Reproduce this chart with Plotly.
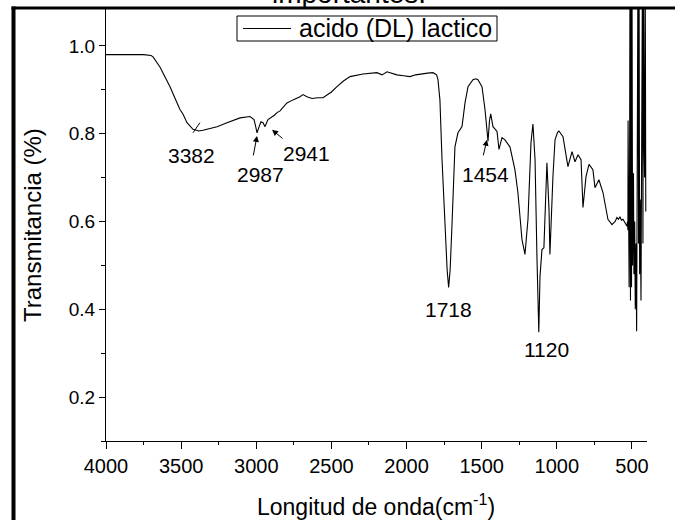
import plotly.graph_objects as go

# ---- data ----
wavenumber = [4000, 3850, 3750, 3700, 3687, 3641, 3607, 3574, 3540, 3508, 3488, 3461, 3421, 3382, 3355,
              3300, 3261, 3195, 3108, 3042, 3015, 3005, 2995, 2985, 2969, 2955, 2942, 2930, 2922, 2880,
              2862, 2842, 2796, 2756, 2709, 2689, 2663, 2629, 2590, 2556, 2529, 2500, 2463, 2420, 2376,
              2290, 2197, 2163, 2130, 2100, 2064, 2020, 1977, 1940, 1911, 1860, 1824, 1800, 1791, 1778,
              1764, 1744, 1730, 1720, 1710, 1698, 1678, 1658, 1631, 1611, 1591, 1558, 1540, 1525, 1498,
              1478, 1465, 1458, 1448, 1440, 1425, 1398, 1385, 1365, 1345, 1312, 1279, 1259, 1232, 1212,
              1192, 1172, 1159, 1145, 1132, 1120, 1112, 1099, 1086, 1066, 1052, 1046, 1026, 1012, 995,
              986, 959, 926, 899, 879, 859, 839, 826, 806, 786, 760, 746, 720, 693, 660,
              633, 612, 600, 590, 580, 570, 560, 545, 533,
              530, 527, 526, 524, 521, 519, 516, 513, 510, 507, 503, 500, 496, 490, 487,
              482, 478, 473, 469, 465, 460, 456, 453, 449, 445, 440, 435, 430, 427, 424,
              420, 416, 412, 408]
transmitance = [0.980, 0.981, 0.980, 0.978, 0.975, 0.952, 0.930, 0.907, 0.880, 0.855, 0.845, 0.825, 0.810, 0.806, 0.808,
                0.813, 0.816, 0.825, 0.836, 0.839, 0.832, 0.818, 0.802, 0.812, 0.827, 0.825, 0.816, 0.826, 0.832, 0.842,
                0.848, 0.852, 0.870, 0.877, 0.884, 0.889, 0.884, 0.880, 0.882, 0.882, 0.889, 0.895, 0.907, 0.920, 0.930,
                0.936, 0.939, 0.934, 0.941, 0.938, 0.934, 0.932, 0.930, 0.934, 0.936, 0.938, 0.939, 0.934, 0.923, 0.877,
                0.741, 0.589, 0.490, 0.450, 0.490, 0.589, 0.770, 0.802, 0.816, 0.870, 0.907, 0.923, 0.925, 0.923, 0.907,
                0.855, 0.800, 0.783, 0.830, 0.845, 0.816, 0.805, 0.764, 0.791, 0.786, 0.770, 0.718, 0.666, 0.559, 0.525,
                0.605, 0.780, 0.822, 0.741, 0.514, 0.348, 0.475, 0.536, 0.540, 0.734, 0.627, 0.525, 0.702, 0.786, 0.803,
                0.806, 0.793, 0.725, 0.759, 0.736, 0.752, 0.741, 0.632, 0.702, 0.730, 0.718, 0.677, 0.695, 0.666, 0.605,
                0.593, 0.600, 0.609, 0.605, 0.611, 0.603, 0.605, 0.597, 0.589,
                0.600, 0.580, 0.830, 0.580, 0.730, 0.450, 0.700, 1.200, 0.420, 1.200, 0.450, 1.200, 0.500, 0.710, 0.480,
                0.600, 0.400, 0.550, 0.350, 0.600, 1.200, 0.550, 1.200, 0.480, 0.650, 0.420, 0.700, 1.200, 0.550, 1.200,
                0.790, 0.700, 1.200, 0.623]

x_ticks = [4000, 3500, 3000, 2500, 2000, 1500, 1000, 500]
y_ticks = [0.2, 0.4, 0.6, 0.8, 1.0]
y_ticktext = ["0.2", "0.4", "0.6", "0.8", "1.0"]

peak_labels = ["3382", "2987", "2941", "1718", "1454", "1120"]
peak_label_x = [3428, 2975, 2663, 1724, 1478, 1066]
peak_label_y = [0.750, 0.707, 0.755, 0.400, 0.707, 0.309]

series_name = "acido (DL) lactico"

FONT = "Liberation Sans, Arial, sans-serif"

fig = go.Figure()
fig.add_trace(go.Scatter(x=wavenumber, y=transmitance, mode="lines", name=series_name,
                         line=dict(color="black", width=1.1), showlegend=False))

W, H = 675, 520
L, R, T, B = 106, 28, 9, 79
pw, ph = W - L - R, H - T - B


def px2paper_x(px):
    return (px - L) / pw


def px2paper_y(py):
    return (H - B - py) / ph


annotations = []
for txt, xx, yy in zip(peak_labels, peak_label_x, peak_label_y):
    annotations.append(dict(x=xx, y=yy, xref="x", yref="y", text=txt, showarrow=False,
                            xanchor="center", yanchor="middle",
                            font=dict(family=FONT, size=21, color="black")))

# arrows
for hx, hy, ax, ay in [(2995, 0.795, -4, 21), (2895, 0.809, 12, 10), (1465, 0.786, -4, 17)]:
    annotations.append(dict(x=hx, y=hy, xref="x", yref="y", text="", showarrow=True,
                            arrowhead=2, arrowsize=1.2, arrowwidth=1, arrowcolor="black",
                            ax=ax, ay=ay))

# axis titles
annotations.append(dict(x=px2paper_x(32), y=px2paper_y(225), xref="paper", yref="paper",
                        xanchor="center", yanchor="middle",
                        text="Transmitancia (%)", textangle=-90, showarrow=False,
                        font=dict(family=FONT, size=24, color="black")))
annotations.append(dict(x=px2paper_x(376), y=px2paper_y(505), xref="paper", yref="paper",
                        xanchor="center", yanchor="middle",
                        text="Longitud de onda(cm<sup>-1</sup>)", showarrow=False,
                        font=dict(family=FONT, size=23, color="black")))
# cut title at the top
annotations.append(dict(x=px2paper_x(349), y=px2paper_y(11), xref="paper", yref="paper",
                        xanchor="center", yanchor="bottom", text="importantes.", showarrow=False,
                        font=dict(family=FONT, size=28, color="black")))

# legend drawn as a framed box with a line sample and the series name
LEG_L, LEG_R, LEG_T, LEG_B = 237, 497, 16, 41
legend_mid = (LEG_T + LEG_B) / 2
annotations.append(dict(x=px2paper_x(297), y=px2paper_y(legend_mid), xref="paper", yref="paper",
                        xanchor="left", yanchor="middle", text=series_name, showarrow=False,
                        font=dict(family=FONT, size=25, color="black")))

shapes = [
    dict(type="line", xref="paper", yref="paper", x0=px2paper_x(13.5), x1=px2paper_x(13.5),
         y0=px2paper_y(520), y1=px2paper_y(6.5), line=dict(color="black", width=4)),
    dict(type="line", xref="paper", yref="paper", x0=px2paper_x(11.5), x1=px2paper_x(676),
         y0=px2paper_y(8), y1=px2paper_y(8), line=dict(color="black", width=3)),
    dict(type="line", xref="x", yref="y", x0=3421, y0=0.802, x1=3375, y1=0.825,
         line=dict(color="black", width=1)),
    dict(type="rect", xref="paper", yref="paper", x0=px2paper_x(LEG_L), x1=px2paper_x(LEG_R),
         y0=px2paper_y(LEG_B), y1=px2paper_y(LEG_T), line=dict(color="black", width=1),
         fillcolor="white", layer="above"),
    dict(type="line", xref="paper", yref="paper", x0=px2paper_x(243), x1=px2paper_x(291),
         y0=px2paper_y(legend_mid), y1=px2paper_y(legend_mid), line=dict(color="black", width=1.1)),
]

fig.update_layout(
    width=W, height=H,
    margin=dict(l=L, r=R, t=T, b=B),
    paper_bgcolor="white", plot_bgcolor="white",
    font=dict(family=FONT, color="black"),
    showlegend=False,
    xaxis=dict(range=[4000, 400], tickmode="array", tickvals=x_ticks,
               ticks="outside", ticklen=7, tickwidth=1, tickcolor="black",
               minor=dict(tickmode="linear", tick0=0, dtick=250, ticks="outside", ticklen=3,
                          tickwidth=1, tickcolor="black"),
               showline=True, linecolor="black", linewidth=1, mirror=False,
               showgrid=False, zeroline=False,
               tickfont=dict(family=FONT, size=20, color="black")),
    yaxis=dict(range=[0.1, 1.084], tickmode="array", tickvals=y_ticks, ticktext=y_ticktext,
               ticks="outside", ticklen=6, tickwidth=1, tickcolor="black",
               minor=dict(tickmode="linear", tick0=0, dtick=0.1, ticks="outside", ticklen=4,
                          tickwidth=1, tickcolor="black"),
               showline=True, linecolor="black", linewidth=1, mirror=False,
               showgrid=False, zeroline=False,
               tickfont=dict(family=FONT, size=19, color="black")),
    annotations=annotations,
    shapes=shapes,
)

fig.write_html("out.html")
